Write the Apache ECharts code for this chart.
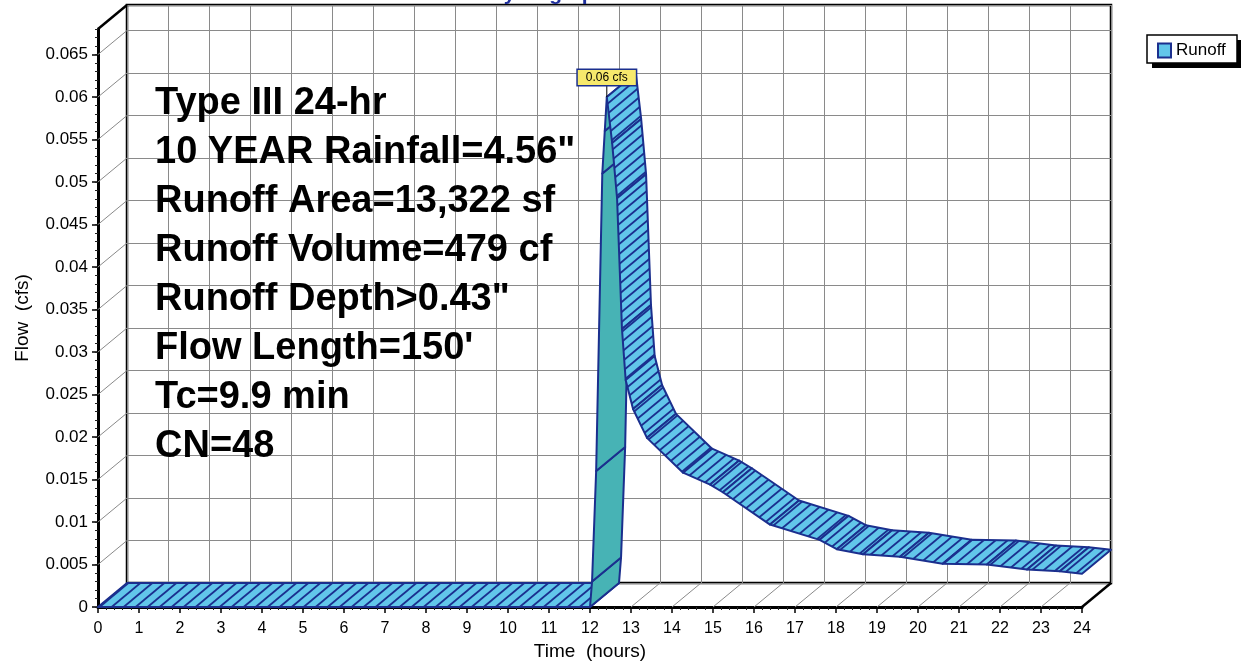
<!DOCTYPE html>
<html>
<head>
<meta charset="utf-8">
<title>Hydrograph</title>
<script src="https://cdn.jsdelivr.net/npm/echarts@6/dist/echarts.min.js"></script>
<style>
    html, body { margin: 0; padding: 0; background: #fff; }
    #hydro { width: 1241px; height: 662px; }
</style>
</head>
<body>
<div id="hydro"></div>
<script>
// axis ticks
let hourTicks = [0, 1, 2, 3, 4, 5, 6, 7, 8, 9, 10, 11, 12, 13, 14, 15, 16, 17, 18, 19, 20, 21, 22, 23, 24];
let flowTicks = [0, 0.005, 0.01, 0.015, 0.02, 0.025, 0.03, 0.035, 0.04, 0.045, 0.05, 0.055, 0.06, 0.065];
let flowMax = 0.068;

let times = [0, 12.0, 12.05, 12.15, 12.3, 12.36, 12.41, 12.54, 12.66, 12.78, 12.87, 13.05, 13.39,
    14.27, 14.93, 15.24, 16.39, 17.6, 18.02, 18.66, 19.56, 20.6, 21.68, 22.66, 23.46, 24];
let flows = [0, 0, 0.003, 0.016, 0.051, 0.056, 0.060, 0.0546, 0.0481, 0.0327, 0.0267, 0.0233, 0.0199,
    0.0158, 0.0144, 0.0135, 0.0097, 0.0079, 0.0068, 0.0062, 0.0059, 0.0051, 0.0050, 0.0044, 0.0042, 0.0039];

let noteLines = [
    'Type III 24-hr',
    '10 YEAR Rainfall=4.56"',
    'Runoff Area=13,322 sf',
    'Runoff Volume=479 cf',
    'Runoff Depth>0.43"',
    'Flow Length=150\'',
    'Tc=9.9 min',
    'CN=48'
];

const FONT = '"Liberation Sans", Arial, sans-serif';
const DX = 29, DY = -24;          // depth offset of the 3d box
const LIGHT = '#62c6ea';
const TEAL = '#47b3b5';
const EDGE = '#1b2f8e';
const GRIDLINE = '#8a8a8a';

let peakIndex = flows.indexOf(Math.max.apply(null, flows));

// "/" hatch following the depth direction
function makeHatch() {
    let w = 12, h = 10;
    let c = document.createElement('canvas');
    c.width = w;
    c.height = h;
    let ctx = c.getContext('2d');
    ctx.fillStyle = LIGHT;
    ctx.fillRect(0, 0, w, h);
    ctx.strokeStyle = EDGE;
    ctx.lineWidth = 1.8;
    for (let k = -1; k <= 1; k++) {
        ctx.beginPath();
        ctx.moveTo(-w + w * k, 2 * h);
        ctx.lineTo(2 * w + w * k, -h);
        ctx.stroke();
    }
    return c;
}
let hatch = makeHatch();

function renderRibbon(params, api) {
    let i = params.dataIndex;
    let children = [];
    let a = api.coord([api.value(0), api.value(1)]);
    if (i < times.length - 1) {
        let b = api.coord([times[i + 1], flows[i + 1]]);
        let rising = flows[i + 1] > flows[i];
        children.push({
            type: 'polygon',
            shape: { points: [a, b, [b[0] + DX, b[1] + DY], [a[0] + DX, a[1] + DY]] },
            style: {
                fill: rising ? TEAL : { image: hatch, repeat: 'repeat' },
                stroke: EDGE,
                lineWidth: 2,
                lineJoin: 'round'
            }
        });
    }
    if (i === peakIndex) {
        children.push({
            type: 'line',
            z2: 20,
            shape: { x1: a[0], y1: a[1], x2: a[0], y2: a[1] - 12 },
            style: { stroke: '#000', lineWidth: 1 }
        });
        children.push({
            type: 'text',
            z2: 21,
            x: a[0],
            y: a[1] - 12,
            style: {
                text: api.value(1).toFixed(2) + ' cfs',
                font: '12px ' + FONT,
                fill: '#000',
                align: 'center',
                verticalAlign: 'bottom',
                backgroundColor: '#f6e96c',
                borderColor: EDGE,
                borderWidth: 1.5,
                padding: [2, 8, 1, 8]
            }
        });
    }
    return { type: 'group', children: children };
}

// depth lines on the floor and the left wall
function renderDepth(params, api) {
    let p = api.coord([api.value(0), api.value(1)]);
    let edge = api.value(2) === 1;
    return {
        type: 'line',
        shape: { x1: p[0], y1: p[1], x2: p[0] + DX, y2: p[1] + DY },
        style: { stroke: edge ? '#000' : GRIDLINE, lineWidth: edge ? 2.5 : 1 }
    };
}

let floorData = hourTicks.map(function (h) {
    return [h, 0, h === hourTicks[hourTicks.length - 1] ? 1 : 0];
});
let wallData = flowTicks.map(function (v) { return [0, v, 0]; }).concat([[0, flowMax, 1]]);

let chart = echarts.init(document.getElementById('hydro'));
let option = {
    animation: false,
    backgroundColor: '#fff',
    textStyle: { fontFamily: FONT },
    legend: {
        left: 1147,
        top: 35,
        padding: [7, 10, 7, 10],
        itemWidth: 13,
        itemHeight: 14,
        itemGap: 5,
        textStyle: { color: '#000', fontSize: 17, fontFamily: FONT },
        data: [{
            name: 'Runoff',
            icon: 'rect',
            itemStyle: { color: LIGHT, borderColor: EDGE, borderWidth: 2 }
        }]
    },
    grid: [
        { left: 98, top: 29, width: 984, height: 578, outerBoundsMode: 'none' },
        {
            left: 98 + DX, top: 29 + DY, width: 984, height: 578, outerBoundsMode: 'none',
            show: true, borderColor: '#000', borderWidth: 2.5, backgroundColor: 'transparent'
        }
    ],
    xAxis: [
        {
            type: 'value',
            gridIndex: 0,
            min: 0,
            max: 24,
            interval: 1,
            axisLine: { lineStyle: { color: '#000', width: 3 } },
            axisTick: { length: 6, lineStyle: { color: '#000', width: 1.5 } },
            minorTick: { show: true, splitNumber: 5, length: 3, lineStyle: { color: '#222', width: 1 } },
            axisLabel: { color: '#000', fontSize: 16, margin: 14 },
            splitLine: { show: false },
            name: 'Time  (hours)',
            nameLocation: 'middle',
            nameGap: 35,
            nameTextStyle: { color: '#000', fontSize: 19 }
        },
        {
            type: 'value',
            gridIndex: 1,
            min: 0,
            max: 24,
            interval: 1,
            axisLine: { show: false },
            axisTick: { show: false },
            axisLabel: { show: false },
            splitLine: { show: true, lineStyle: { color: GRIDLINE, width: 1 } }
        }
    ],
    yAxis: [
        {
            type: 'value',
            gridIndex: 0,
            position: 'left',
            min: 0,
            max: flowMax,
            interval: 0.005,
            axisLine: { show: true, lineStyle: { color: '#000', width: 3 } },
            axisTick: { show: true, customValues: flowTicks, length: 6, lineStyle: { color: '#000', width: 1.5 } },
            axisLabel: { customValues: flowTicks, color: '#000', fontSize: 17, margin: 10 },
            splitLine: { show: false },
            name: 'Flow  (cfs)',
            nameLocation: 'middle',
            nameGap: 66,
            nameTextStyle: { color: '#000', fontSize: 19 }
        },
        {
            // minor ticks every 0.001
            type: 'value',
            gridIndex: 0,
            position: 'left',
            offset: 0,
            min: 0,
            max: flowMax,
            interval: 0.001,
            axisLine: { show: false },
            axisTick: { show: true, length: 3, lineStyle: { color: '#222', width: 1 } },
            axisLabel: { show: false },
            splitLine: { show: false }
        },
        {
            type: 'value',
            gridIndex: 1,
            min: 0,
            max: flowMax,
            interval: 0.005,
            axisLine: { show: false },
            axisTick: { show: false },
            axisLabel: { show: false },
            splitLine: { show: true, lineStyle: { color: GRIDLINE, width: 1 } }
        }
    ],
    series: [
        {
            name: 'floor',
            type: 'custom',
            xAxisIndex: 0,
            yAxisIndex: 0,
            data: floorData,
            renderItem: renderDepth,
            clip: false,
            silent: true,
            z: 1
        },
        {
            name: 'wall',
            type: 'custom',
            xAxisIndex: 0,
            yAxisIndex: 0,
            data: wallData,
            renderItem: renderDepth,
            clip: false,
            silent: true,
            z: 1
        },
        {
            name: 'Runoff',
            type: 'custom',
            xAxisIndex: 0,
            yAxisIndex: 0,
            data: times.map(function (t, i) { return [t, flows[i]]; }),
            encode: { x: 0, y: 1 },
            renderItem: renderRibbon,
            clip: false,
            silent: true,
            itemStyle: { color: LIGHT, borderColor: EDGE },
            z: 5
        }
    ],
    graphic: [
        {
            type: 'text',
            left: 155,
            top: 79,
            z: 50,
            style: {
                text: noteLines.join('\n'),
                font: 'bold 38px ' + FONT,
                fill: '#000',
                lineHeight: 49
            }
        },
        {
            type: 'text',
            x: 548,
            y: 5,
            z: 50,
            style: {
                text: 'Hydrograph',
                font: 'bold 21px ' + FONT,
                fill: '#1f2f9c',
                align: 'center',
                verticalAlign: 'bottom'
            }
        },
        // legend frame with its hard shadow
        {
            type: 'rect',
            z: 0,
            shape: { x: 1152, y: 40, width: 90, height: 28 },
            style: { fill: '#000' }
        },
        {
            type: 'rect',
            z: 1,
            shape: { x: 1147, y: 35, width: 90, height: 28 },
            style: { fill: '#fff', stroke: '#000', lineWidth: 1.5 }
        }
    ]
};
chart.setOption(option);
</script>
</body>
</html>
